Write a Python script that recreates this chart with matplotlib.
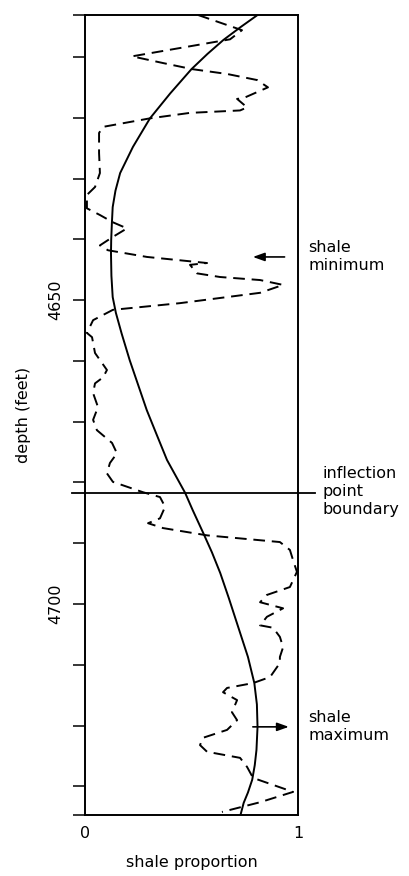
import matplotlib
matplotlib.use("Agg")
import matplotlib.pyplot as plt

# dashed log: shale proportion vs depth, read top to bottom
log_depth = [4603.1, 4605.6, 4607.1, 4609.9, 4611.0, 4612.0, 4612.8, 4613.8, 4615.0,
             4616.8, 4616.9, 4618.3, 4618.8, 4619.2, 4620.1, 4621.5, 4622.5, 4625.8,
             4629.1, 4631.4, 4632.7, 4634.9, 4636.0, 4637.2, 4638.2, 4639.6, 4641.0,
             4641.8, 4642.9, 4643.9, 4644.2, 4645.6, 4646.2, 4646.7, 4647.5, 4648.8,
             4650.5, 4651.6, 4653.3, 4655.4, 4656.1, 4658.7, 4661.5, 4662.7, 4663.7,
             4665.3, 4667.6, 4669.7, 4671.4, 4673.5, 4675.2, 4676.8, 4678.5, 4679.9,
             4681.6, 4682.4, 4684.0, 4685.9, 4686.7, 4687.5, 4688.7, 4689.8, 4691.1,
             4692.8, 4694.7, 4697.2, 4698.5, 4699.7, 4700.7, 4702.1, 4703.5, 4703.9,
             4705.4, 4707.1, 4708.7, 4709.7, 4712.0, 4713.0, 4713.8, 4714.5, 4715.8,
             4717.8, 4719.1, 4720.7, 4722.0, 4723.2, 4724.3, 4725.3, 4726.8, 4728.6,
             4730.9, 4732.6, 4734.2]
log_shale = [0.531, 0.737, 0.681, 0.221, 0.366, 0.502, 0.667, 0.808, 0.859,
             0.742, 0.714, 0.761, 0.728, 0.493, 0.305, 0.085, 0.066, 0.066,
             0.070, 0.047, 0.009, 0.009, 0.070, 0.131, 0.197, 0.131, 0.070,
             0.108, 0.291, 0.573, 0.493, 0.526, 0.634, 0.822, 0.930, 0.822,
             0.446, 0.131, 0.038, 0.009, 0.033, 0.047, 0.103, 0.085, 0.047,
             0.038, 0.061, 0.038, 0.056, 0.127, 0.150, 0.117, 0.103, 0.131,
             0.272, 0.352, 0.376, 0.352, 0.296, 0.366, 0.573, 0.915, 0.962,
             0.977, 0.995, 0.962, 0.854, 0.822, 0.930, 0.854, 0.822, 0.883,
             0.915, 0.930, 0.915, 0.915, 0.869, 0.789, 0.667, 0.648, 0.714,
             0.690, 0.714, 0.667, 0.554, 0.540, 0.573, 0.728, 0.761, 0.789,
             0.977, 0.822, 0.643]

# smooth trend curve
trend_depth = [4603.1, 4605.1, 4607.2, 4609.5, 4612.0, 4616.0, 4620.1, 4624.8, 4629.1,
               4632.0, 4634.7, 4637.5, 4640.1, 4642.3, 4646.0, 4649.5, 4652.1, 4655.5,
               4659.9, 4664.0, 4668.1, 4672.0, 4676.3, 4681.7, 4684.5, 4688.3, 4691.5,
               4694.9, 4699.0, 4703.1, 4708.7, 4713.0, 4716.5, 4720.2, 4724.0, 4726.5,
               4728.9, 4731.0, 4732.7, 4734.7]
trend_shale = [0.81, 0.73, 0.65, 0.575, 0.50, 0.40, 0.305, 0.225, 0.165,
               0.143, 0.13, 0.126, 0.123, 0.122, 0.124, 0.13, 0.145, 0.172,
               0.21, 0.25, 0.29, 0.335, 0.385, 0.47, 0.505, 0.555, 0.596,
               0.635, 0.675, 0.713, 0.765, 0.795, 0.807, 0.81, 0.805, 0.797,
               0.785, 0.765, 0.745, 0.73]

inflection_depth = 4681.7
min_depth = 4642.9
max_depth = 4720.2
major_ticks = [4650, 4700]
minor_ticks = [4610, 4620, 4630, 4640, 4660, 4670, 4680, 4690, 4710, 4720, 4730]
depth_top, depth_bottom = 4603.1, 4734.7

fig = plt.figure(figsize=(4.09, 8.76), dpi=100)
ax = fig.add_axes([85 / 409, 61 / 876, 213 / 409, 800 / 876])

ax.plot(trend_shale, trend_depth, color="black", lw=1.4)
ax.plot(log_shale, log_depth, color="black", lw=1.4, dashes=(6, 3.5))

# inflection point boundary line, runs a bit past the frame
ax.plot([-0.061, 1.08], [inflection_depth, inflection_depth], color="black",
        lw=1.3, clip_on=False)

arrow = dict(arrowstyle="-|>,head_length=0.7,head_width=0.25", color="black", lw=1.2)
ax.annotate("", xy=(0.775, min_depth), xytext=(0.95, min_depth), arrowprops=arrow)
ax.annotate("", xy=(0.97, max_depth), xytext=(0.775, max_depth), arrowprops=arrow)

txt = dict(fontsize=11.5, ha="left", va="center", linespacing=1.25, clip_on=False)
ax.text(1.047, min_depth, "shale\nminimum", **txt)
ax.text(1.047, max_depth, "shale\nmaximum", **txt)
ax.text(1.117, inflection_depth - 0.2, "inflection\npoint\nboundary", **txt)

ax.set_xlim(0, 1)
ax.set_ylim(depth_bottom, depth_top)
ax.set_xticks([0, 1])
ax.set_xticklabels(["0", "1"], fontsize=11.5)
ax.tick_params(axis="x", length=0, pad=8)
ax.set_yticks(major_ticks)
ax.set_yticklabels([str(t) for t in major_ticks], rotation=90, va="center", fontsize=11.5)
ax.set_yticks(minor_ticks + [depth_top, depth_bottom], minor=True)
ax.tick_params(axis="y", which="both", direction="out", length=9, width=1.1, pad=7)
ax.set_xlabel("shale proportion", fontsize=11.5, labelpad=10)
ax.set_ylabel("depth (feet)", fontsize=11.5, labelpad=12)
for s in ax.spines.values():
    s.set_linewidth(1.4)

fig.savefig("out.png", dpi=100)
